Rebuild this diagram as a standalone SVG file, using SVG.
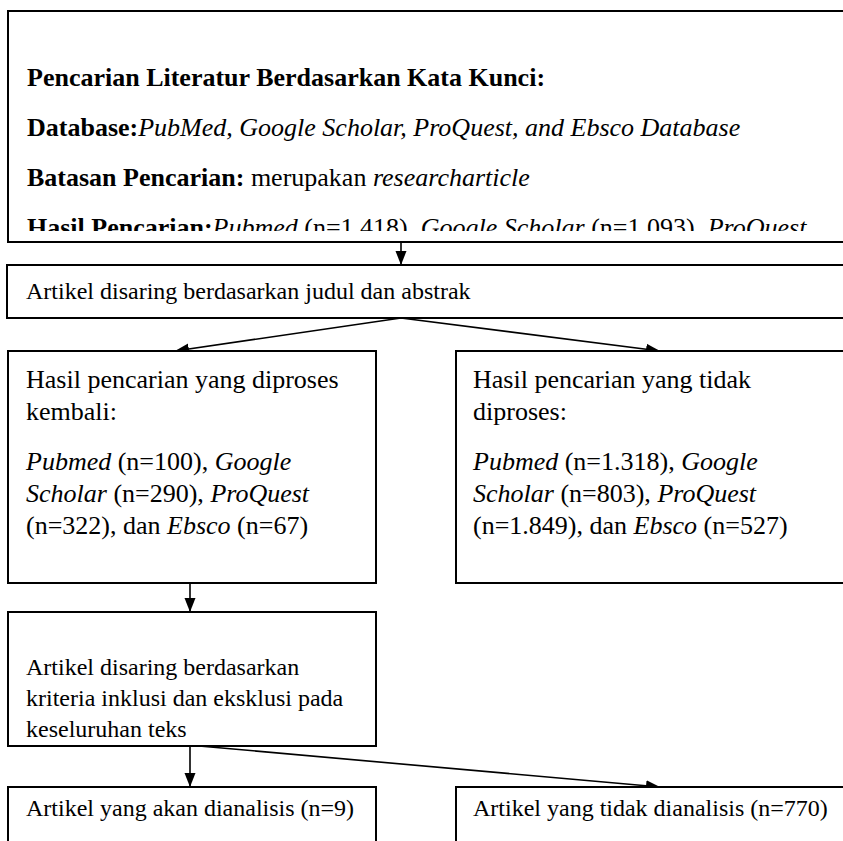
<svg xmlns="http://www.w3.org/2000/svg" width="843" height="841" viewBox="0 0 843 841">
<style>
.box{fill:#fff;stroke:#000;stroke-width:2}
.t{font-family:"Liberation Serif","Times New Roman",serif;font-size:24px;fill:#000}
.h{font-size:26px}
.b{font-weight:bold}
.i{font-style:italic}
.c{stroke:#000;stroke-width:1.6;fill:none;marker-end:url(#ah)}
</style>
<defs>
<marker id="ah" markerUnits="userSpaceOnUse" markerWidth="14" markerHeight="14" viewBox="0 0 14 14" refX="14" refY="7" orient="auto">
<path d="M0,1.5 L14,7 L0,12.5 Z" fill="#000"/>
</marker>
<clipPath id="hc"><rect x="0" y="0" width="843" height="231"/></clipPath>
</defs>
<rect width="843" height="841" fill="#fff"/>
<g id="connectors">
<line class="c" x1="401" y1="243" x2="401" y2="265"/>
<line class="c" x1="401" y1="318" x2="175" y2="351"/>
<line class="c" x1="401" y1="318" x2="660" y2="351"/>
<line class="c" x1="190" y1="583" x2="190" y2="612"/>
<line class="c" x1="190" y1="746" x2="190" y2="787"/>
<line class="c" x1="199" y1="746" x2="660" y2="787"/>
</g>
<g id="search">
<rect class="box" x="8" y="11" width="850" height="231"/>
<g clip-path="url(#hc)">
<text class="t h b" x="27" y="86">Pencarian Literatur Berdasarkan Kata Kunci:</text>
<text class="t h" x="27" y="136"><tspan class="b">Database:</tspan><tspan class="i">PubMed, Google Scholar, ProQuest, and Ebsco Database</tspan></text>
<text class="t h" x="27" y="186"><tspan class="b">Batasan Pencarian:</tspan> merupakan <tspan class="i">researcharticle</tspan></text>
<text class="t h" x="27" y="236"><tspan class="b">Hasil Pencarian:</tspan><tspan class="i">Pubmed</tspan> (n=1.418), <tspan class="i">Google Scholar</tspan> (n=1.093), <tspan class="i">ProQuest</tspan></text>
</g>
</g>
<g id="screen1">
<rect class="box" x="7" y="265" width="850" height="53"/>
<text class="t" x="26" y="299">Artikel disaring berdasarkan judul dan abstrak</text>
</g>
<g id="processed">
<rect class="box" x="8" y="351" width="368" height="232"/>
<text class="t h" x="26" y="388">Hasil pencarian yang diproses</text>
<text class="t h" x="26" y="420">kembali:</text>
<text class="t h" x="26" y="470"><tspan class="i">Pubmed</tspan> (n=100), <tspan class="i">Google</tspan></text>
<text class="t h" x="26" y="502"><tspan class="i">Scholar</tspan> (n=290), <tspan class="i">ProQuest</tspan></text>
<text class="t h" x="26" y="534">(n=322), dan <tspan class="i">Ebsco</tspan> (n=67)</text>
</g>
<g id="notprocessed">
<rect class="box" x="456" y="351" width="400" height="232"/>
<text class="t h" x="473" y="388">Hasil pencarian yang tidak</text>
<text class="t h" x="473" y="420">diproses:</text>
<text class="t h" x="473" y="470"><tspan class="i">Pubmed</tspan> (n=1.318), <tspan class="i">Google</tspan></text>
<text class="t h" x="473" y="502"><tspan class="i">Scholar</tspan> (n=803), <tspan class="i">ProQuest</tspan></text>
<text class="t h" x="473" y="534">(n=1.849), dan <tspan class="i">Ebsco</tspan> (n=527)</text>
</g>
<g id="screen2">
<rect class="box" x="8" y="612" width="368" height="134"/>
<text class="t" x="26" y="675">Artikel disaring berdasarkan</text>
<text class="t" x="26" y="706">kriteria inklusi dan eksklusi pada</text>
<text class="t" x="26" y="737">keseluruhan teks</text>
</g>
<g id="analyzed">
<rect class="box" x="8" y="787" width="368" height="80"/>
<text class="t" x="26" y="816">Artikel yang akan dianalisis (n=9)</text>
</g>
<g id="notanalyzed">
<rect class="box" x="456" y="787" width="400" height="80"/>
<text class="t" x="473" y="816">Artikel yang tidak dianalisis (n=770)</text>
</g>
</svg>
